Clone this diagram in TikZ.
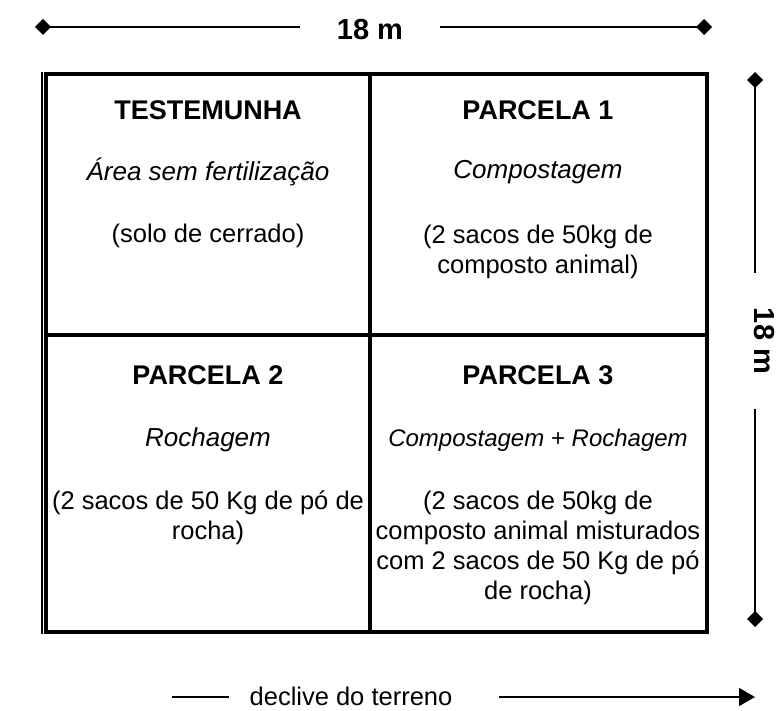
\documentclass[tikz,border=0pt]{standalone}
\usepackage{fontspec}
\setmainfont{Liberation Sans}
\usetikzlibrary{calc}
\usetikzlibrary{positioning}
\usetikzlibrary{arrows.meta}

\begin{document}
\begin{tikzpicture}[%
  x=1pt, y=-1pt,
  dim/.style={line width=1.6pt},
  wall/.style={line width=4pt},
  head/.style={font=\fontsize{27}{30}\selectfont\bfseries},
  sub/.style={font=\fontsize{26}{30}\selectfont\itshape},
  note/.style={font=\fontsize{25.5}{30}\selectfont, align=center},
  dimlbl/.style={font=\fontsize{29}{30}\selectfont\bfseries, inner xsep=37pt, inner ysep=0pt},
  dot/.tip={Turned Square[length=16pt,width=16pt]}
]

  \useasboundingbox (0,0) rectangle (778,711);

  % plot
  \coordinate (nw) at (46,74);
  \coordinate (se) at (707,632);
  \draw[wall] (nw) rectangle (se);
  \draw[line width=1.5pt] (42,72) -- (42,634);
  \draw[wall] (370,74) -- (370,632);
  \draw[wall] (46,335) -- (707,335);

  % cells
  \node[head] (tHead) at (208,110) {TESTEMUNHA};
  \node[sub]  (tSub)  at (208,172) {Área sem fertilização};
  \node[note] (tNote) at (208,236) {(solo de cerrado)};

  \node[head] (aHead) at (538,110) {PARCELA 1};
  \node[sub]  (aSub)  at (538,172) {Compostagem};
  \node[note] (aNote) at (538,252) {(2 sacos de 50kg de\\composto animal)};

  \node[head] (bHead) at (208,375) {PARCELA 2};
  \node[sub]  (bSub)  at (208,440) {Rochagem};
  \node[note] (bNote) at (208,518) {(2 sacos de 50 Kg de pó de\\rocha)};

  \node[head] (cHead) at (538,375) {PARCELA 3};
  \node[font=\fontsize{24}{28}\selectfont] (cSub) at (538,440)
    {\textit{Compostagem} + \textit{Rochagem}};
  \node[note] (cNote) at (538,548)
    {(2 sacos de 50kg de\\composto animal misturados\\com 2 sacos de 50 Kg de pó\\de rocha)};

  % dimensions
  \coordinate (topL) at (35,27);
  \coordinate (topR) at (712,27);
  \node[dimlbl] (topLbl) at (370,30) {18 m};
  \draw[dim, dot-] (topL) -- (topL -| topLbl.west);
  \draw[dim, -dot] (topR -| topLbl.east) -- (topR);

  \coordinate (rgtT) at (755,72);
  \coordinate (rgtB) at (755,627);
  \node[dimlbl, inner xsep=35pt, rotate=-90] (rgtLbl) at (764,341) {18 m};
  \draw[dim, dot-] (rgtT) -- (rgtT |- rgtLbl.west);
  \draw[dim, -dot] (rgtB |- rgtLbl.east) -- (rgtB);

  \coordinate (slopeL) at (172,697);
  \coordinate (slopeR) at (755,697);
  \node[note, inner sep=0pt] (slope) at (351,696) {declive do terreno};
  \draw[dim] (slopeL) -- ($(slopeL -| slope.west)+(-20,0)$);
  \draw[dim, -{Triangle[length=16pt,width=18pt]}] ($(slopeR -| slope.east)+(46,0)$) -- (slopeR);

\end{tikzpicture}
\end{document}
